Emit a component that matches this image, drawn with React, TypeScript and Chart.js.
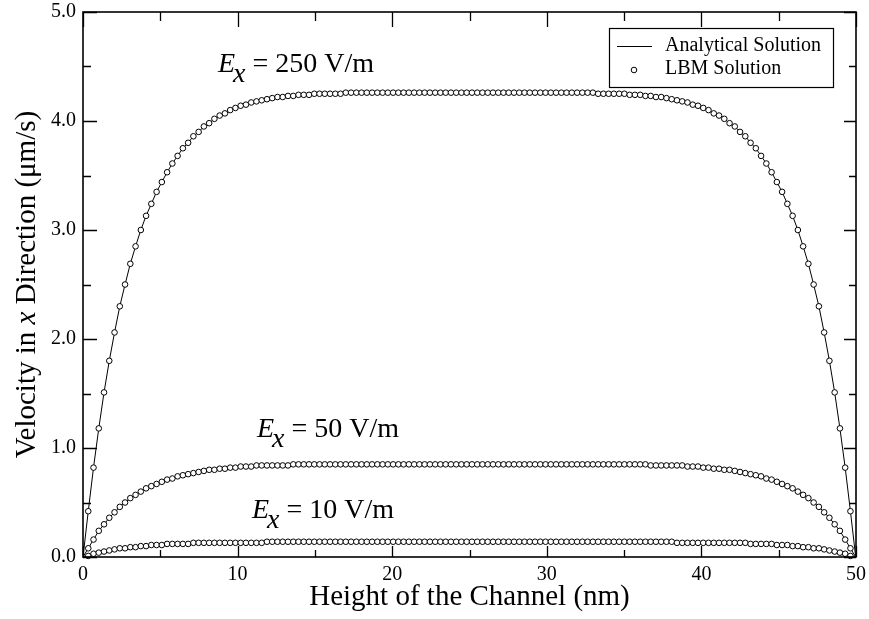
import { useEffect, useRef } from "react";
import { Chart, registerables } from "chart.js";

Chart.register(...registerables);

// Lattice node positions across the channel (nm)
const heightNm = [
  0, 0.34, 0.68, 1.02, 1.36, 1.7, 2.04, 2.38, 2.72, 3.06,
  3.4, 3.74, 4.08, 4.42, 4.76, 5.1, 5.44, 5.78, 6.12, 6.46,
  6.8, 7.14, 7.48, 7.82, 8.16, 8.5, 8.84, 9.18, 9.52, 9.86,
  10.2, 10.54, 10.88, 11.22, 11.56, 11.9, 12.24, 12.58, 12.92, 13.26,
  13.6, 13.94, 14.28, 14.62, 14.96, 15.3, 15.64, 15.98, 16.32, 16.66,
  17, 17.34, 17.68, 18.02, 18.36, 18.7, 19.04, 19.38, 19.72, 20.06,
  20.4, 20.74, 21.08, 21.42, 21.76, 22.1, 22.44, 22.78, 23.12, 23.46,
  23.8, 24.14, 24.48, 24.82, 25.16, 25.5, 25.84, 26.18, 26.52, 26.86,
  27.2, 27.54, 27.88, 28.22, 28.56, 28.9, 29.24, 29.58, 29.92, 30.26,
  30.6, 30.94, 31.28, 31.62, 31.96, 32.3, 32.64, 32.98, 33.32, 33.66,
  34, 34.34, 34.68, 35.02, 35.36, 35.7, 36.04, 36.38, 36.72, 37.06,
  37.4, 37.74, 38.08, 38.42, 38.76, 39.1, 39.44, 39.78, 40.12, 40.46,
  40.8, 41.14, 41.48, 41.82, 42.16, 42.5, 42.84, 43.18, 43.52, 43.86,
  44.2, 44.54, 44.88, 45.22, 45.56, 45.9, 46.24, 46.58, 46.92, 47.26,
  47.6, 47.94, 48.28, 48.62, 48.96, 49.3, 49.64, 49.98,
];

// Velocity (µm/s), Ex = 250 V/m
const velocity250 = [
  0, 0.42, 0.82, 1.18, 1.51, 1.8, 2.06, 2.3, 2.5, 2.69,
  2.85, 3.0, 3.13, 3.24, 3.35, 3.44, 3.53, 3.61, 3.68, 3.75,
  3.8, 3.86, 3.9, 3.95, 3.98, 4.02, 4.05, 4.07, 4.1, 4.12,
  4.14, 4.15, 4.17, 4.18, 4.19, 4.2, 4.21, 4.22, 4.22, 4.23,
  4.23, 4.24, 4.24, 4.24, 4.25, 4.25, 4.25, 4.25, 4.25, 4.25,
  4.26, 4.26, 4.26, 4.26, 4.26, 4.26, 4.26, 4.26, 4.26, 4.26,
  4.26, 4.26, 4.26, 4.26, 4.26, 4.26, 4.26, 4.26, 4.26, 4.26,
  4.26, 4.26, 4.26, 4.26, 4.26, 4.26, 4.26, 4.26, 4.26, 4.26,
  4.26, 4.26, 4.26, 4.26, 4.26, 4.26, 4.26, 4.26, 4.26, 4.26,
  4.26, 4.26, 4.26, 4.26, 4.26, 4.26, 4.26, 4.26, 4.25, 4.25,
  4.25, 4.25, 4.25, 4.25, 4.24, 4.24, 4.24, 4.23, 4.23, 4.22,
  4.22, 4.21, 4.2, 4.19, 4.18, 4.17, 4.15, 4.14, 4.12, 4.1,
  4.07, 4.05, 4.02, 3.98, 3.95, 3.9, 3.86, 3.8, 3.75, 3.68,
  3.61, 3.53, 3.44, 3.35, 3.24, 3.13, 3.0, 2.85, 2.69, 2.5,
  2.3, 2.06, 1.8, 1.51, 1.18, 0.82, 0.42, 0,
];

// Velocity (µm/s), Ex = 50 V/m
const velocity50 = [
  0, 0.08, 0.16, 0.24, 0.3, 0.36, 0.41, 0.46, 0.5, 0.54,
  0.57, 0.6, 0.63, 0.65, 0.67, 0.69, 0.71, 0.72, 0.74, 0.75,
  0.76, 0.77, 0.78, 0.79, 0.8, 0.8, 0.81, 0.81, 0.82, 0.82,
  0.83, 0.83, 0.83, 0.84, 0.84, 0.84, 0.84, 0.84, 0.84, 0.84,
  0.85, 0.85, 0.85, 0.85, 0.85, 0.85, 0.85, 0.85, 0.85, 0.85,
  0.85, 0.85, 0.85, 0.85, 0.85, 0.85, 0.85, 0.85, 0.85, 0.85,
  0.85, 0.85, 0.85, 0.85, 0.85, 0.85, 0.85, 0.85, 0.85, 0.85,
  0.85, 0.85, 0.85, 0.85, 0.85, 0.85, 0.85, 0.85, 0.85, 0.85,
  0.85, 0.85, 0.85, 0.85, 0.85, 0.85, 0.85, 0.85, 0.85, 0.85,
  0.85, 0.85, 0.85, 0.85, 0.85, 0.85, 0.85, 0.85, 0.85, 0.85,
  0.85, 0.85, 0.85, 0.85, 0.85, 0.85, 0.85, 0.85, 0.84, 0.84,
  0.84, 0.84, 0.84, 0.84, 0.84, 0.83, 0.83, 0.83, 0.82, 0.82,
  0.81, 0.81, 0.8, 0.8, 0.79, 0.78, 0.77, 0.76, 0.75, 0.74,
  0.72, 0.71, 0.69, 0.67, 0.65, 0.63, 0.6, 0.57, 0.54, 0.5,
  0.46, 0.41, 0.36, 0.3, 0.24, 0.16, 0.08, 0,
];

// Velocity (µm/s), Ex = 10 V/m
const velocity10 = [
  0, 0.01, 0.03, 0.04, 0.05, 0.06, 0.07, 0.08, 0.08, 0.09,
  0.09, 0.1, 0.1, 0.11, 0.11, 0.11, 0.12, 0.12, 0.12, 0.12,
  0.12, 0.13, 0.13, 0.13, 0.13, 0.13, 0.13, 0.13, 0.13, 0.13,
  0.13, 0.13, 0.13, 0.13, 0.13, 0.14, 0.14, 0.14, 0.14, 0.14,
  0.14, 0.14, 0.14, 0.14, 0.14, 0.14, 0.14, 0.14, 0.14, 0.14,
  0.14, 0.14, 0.14, 0.14, 0.14, 0.14, 0.14, 0.14, 0.14, 0.14,
  0.14, 0.14, 0.14, 0.14, 0.14, 0.14, 0.14, 0.14, 0.14, 0.14,
  0.14, 0.14, 0.14, 0.14, 0.14, 0.14, 0.14, 0.14, 0.14, 0.14,
  0.14, 0.14, 0.14, 0.14, 0.14, 0.14, 0.14, 0.14, 0.14, 0.14,
  0.14, 0.14, 0.14, 0.14, 0.14, 0.14, 0.14, 0.14, 0.14, 0.14,
  0.14, 0.14, 0.14, 0.14, 0.14, 0.14, 0.14, 0.14, 0.14, 0.14,
  0.14, 0.14, 0.14, 0.13, 0.13, 0.13, 0.13, 0.13, 0.13, 0.13,
  0.13, 0.13, 0.13, 0.13, 0.13, 0.13, 0.13, 0.12, 0.12, 0.12,
  0.12, 0.12, 0.11, 0.11, 0.11, 0.1, 0.1, 0.09, 0.09, 0.08,
  0.08, 0.07, 0.06, 0.05, 0.04, 0.03, 0.01, 0,
];

const xMajorTicks = [0, 10, 20, 30, 40, 50];
const xMinorTicks = [5, 15, 25, 35, 45];
const yMajorTicks = [0, 1, 2, 3, 4, 5];
const yMinorTicks = [0.5, 1.5, 2.5, 3.5, 4.5];

const fieldLabels = ["250 V/m", "50 V/m", "10 V/m"];
const fieldLabelX = [8.73, 11.25, 10.93];
const fieldLabelY = [4.45, 1.1, 0.36];

const legendLabels = ["Analytical Solution", "LBM Solution"];
const xTitle = "Height of the Channel (nm)";
const yTitleParts = ["Velocity in ", "x", " Direction (\u03bcm/s)"];

const SERIF = '"Liberation Serif", "Times New Roman", serif';

const toPoints = (ys: number[]) => heightNm.map((x, i) => ({ x, y: ys[i] }));

const decorPlugin = {
  id: "decor",
  afterDatasetsDraw(chart: any) {
    const { ctx, chartArea: a, scales } = chart;
    const xs = scales.x;
    const ys = scales.y;
    ctx.save();
    ctx.strokeStyle = "#000";
    ctx.fillStyle = "#000";

    // frame
    ctx.lineWidth = 1.6;
    ctx.strokeRect(a.left, a.top, a.right - a.left, a.bottom - a.top);

    // inward ticks on all four sides
    ctx.lineWidth = 1.3;
    ctx.beginPath();
    const xt = (vals: number[], lb: number, lt: number) => {
      vals.forEach((v) => {
        const px = Math.round(xs.getPixelForValue(v)) + 0.5;
        ctx.moveTo(px, a.bottom);
        ctx.lineTo(px, a.bottom - lb);
        ctx.moveTo(px, a.top);
        ctx.lineTo(px, a.top + lt);
      });
    };
    const yt = (vals: number[], ll: number, lr: number) => {
      vals.forEach((v) => {
        const py = Math.round(ys.getPixelForValue(v)) + 0.5;
        ctx.moveTo(a.left, py);
        ctx.lineTo(a.left + ll, py);
        ctx.moveTo(a.right, py);
        ctx.lineTo(a.right - lr, py);
      });
    };
    xt(xMajorTicks, 11, 15);
    xt(xMinorTicks, 7, 9);
    yt(yMajorTicks, 14, 12);
    yt(yMinorTicks, 8, 7);
    ctx.stroke();

    // field-strength annotations
    ctx.textBaseline = "alphabetic";
    ctx.textAlign = "left";
    fieldLabels.forEach((t, i) => {
      let px = xs.getPixelForValue(fieldLabelX[i]);
      const py = ys.getPixelForValue(fieldLabelY[i]);
      ctx.font = `italic 28px ${SERIF}`;
      ctx.fillText("E", px, py);
      px += ctx.measureText("E").width - 2;
      ctx.fillText("x", px, py + 10);
      px += ctx.measureText("x").width;
      ctx.font = `28px ${SERIF}`;
      ctx.fillText(" = " + t, px, py);
    });

    // y-axis title with italic x
    ctx.save();
    ctx.translate(27, (a.top + a.bottom) / 2);
    ctx.rotate(-Math.PI / 2);
    ctx.textBaseline = "middle";
    const fonts = [`29px ${SERIF}`, `italic 29px ${SERIF}`, `29px ${SERIF}`];
    const widths = yTitleParts.map((p, i) => {
      ctx.font = fonts[i];
      return ctx.measureText(p).width;
    });
    let sx = -widths.reduce((s, w) => s + w, 0) / 2;
    yTitleParts.forEach((p, i) => {
      ctx.font = fonts[i];
      ctx.fillText(p, sx, 0);
      sx += widths[i];
    });
    ctx.restore();

    // legend box
    const bx = a.right - 247;
    const by = a.top + 16;
    const bw = 224;
    const bh = 59;
    ctx.lineWidth = 1.2;
    ctx.fillStyle = "#fff";
    ctx.fillRect(bx, by, bw, bh);
    ctx.strokeRect(bx + 0.5, by + 0.5, bw, bh);
    ctx.beginPath();
    ctx.lineWidth = 1;
    ctx.moveTo(bx + 8, by + 18.5);
    ctx.lineTo(bx + 43, by + 18.5);
    ctx.stroke();
    ctx.beginPath();
    ctx.arc(bx + 25, by + 42, 2.8, 0, Math.PI * 2);
    ctx.fillStyle = "#fff";
    ctx.fill();
    ctx.stroke();
    ctx.fillStyle = "#000";
    ctx.font = `20px ${SERIF}`;
    ctx.textBaseline = "alphabetic";
    ctx.fillText(legendLabels[0], bx + 56, by + 23);
    ctx.fillText(legendLabels[1], bx + 56, by + 46);

    ctx.restore();
  },
};

export default function App() {
  const canvasRef = useRef<HTMLCanvasElement | null>(null);

  useEffect(() => {
    const canvas = canvasRef.current;
    if (!canvas) return;
    const lineDs = (ys: number[]) => ({
      data: toPoints(ys),
      showLine: true,
      borderColor: "#000",
      borderWidth: 1,
      pointRadius: 0,
      order: 2,
    });
    const pointDs = (ys: number[]) => ({
      data: toPoints(ys).slice(1, -1),
      showLine: false,
      pointRadius: 2.8,
      pointBackgroundColor: "#fff",
      pointBorderColor: "#000",
      pointBorderWidth: 1,
      clip: false,
      order: 1,
    });
    const chart = new Chart(canvas, {
      type: "scatter",
      data: {
        datasets: [
          lineDs(velocity250),
          lineDs(velocity50),
          lineDs(velocity10),
          pointDs(velocity250),
          pointDs(velocity50),
          pointDs(velocity10),
        ] as any,
      },
      options: {
        animation: false,
        responsive: false,
        layout: { padding: { left: 0, top: 12, right: 13, bottom: 0 } },
        plugins: {
          legend: { display: false },
          tooltip: { enabled: false },
        },
        scales: {
          x: {
            type: "linear",
            min: 0,
            max: 50,
            grid: { display: false, drawTicks: false },
            border: { display: false },
            ticks: {
              stepSize: 10,
              padding: 6,
              color: "#000",
              font: { family: SERIF, size: 20 },
              callback: (v: any) => String(v),
            },
            title: {
              display: true,
              text: xTitle,
              color: "#000",
              font: { family: SERIF, size: 29 },
              padding: { top: 0, bottom: 4 },
            },
            afterFit: (s: any) => {
              s.height = 62;
              s.paddingLeft = 0;
              s.paddingRight = 0;
            },
          },
          y: {
            type: "linear",
            min: 0,
            max: 5,
            grid: { display: false, drawTicks: false },
            border: { display: false },
            ticks: {
              stepSize: 1,
              padding: 7,
              color: "#000",
              font: { family: SERIF, size: 20 },
              callback: (v: any) => Number(v).toFixed(1),
            },
            afterFit: (s: any) => {
              s.width = 83;
              s.paddingTop = 0;
              s.paddingBottom = 0;
            },
          },
        },
      } as any,
      plugins: [decorPlugin],
    });
    return () => chart.destroy();
  }, []);

  return (
    <div style={{ position: "absolute", left: 0, top: 0, width: 869, height: 619, background: "#fff" }}>
      <canvas ref={canvasRef} width={869} height={619} style={{ display: "block" }} />
    </div>
  );
}
